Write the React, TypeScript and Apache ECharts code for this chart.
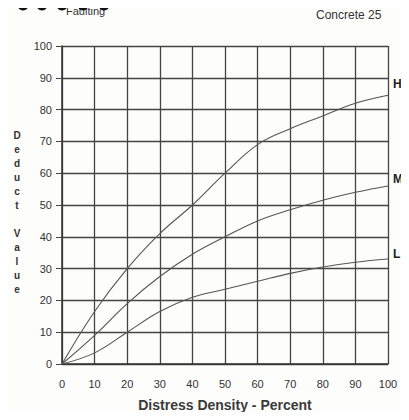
import React, { useEffect, useRef } from "react";
import * as echarts from "echarts";

const density = [0, 10, 20, 30, 40, 50, 60, 70, 80, 90, 100];
const highValues = [0, 16.5, 30, 41, 50, 60, 69, 74, 78, 82, 84.5];
const mediumValues = [0, 9, 19, 27.5, 34.5, 40, 45, 48.5, 51.5, 54, 56];
const lowValues = [0, 3.5, 10, 16.5, 21, 23.5, 26, 28.5, 30.5, 32, 33];
const curveLabels = ["H", "M", "L"];

const font = "'Liberation Sans Narrow', 'Liberation Sans', Arial, sans-serif";

export default function App() {
  const ref = useRef<HTMLDivElement>(null);
  useEffect(() => {
    if (!ref.current) return;
    const chart = echarts.init(ref.current, null, { renderer: "svg" });
    const pairs = (vals: number[]) => density.map((d, i) => [d, vals[i]]);
    const seriesVals = [highValues, mediumValues, lowValues];
    const labelTops = [78, 173, 248];
    chart.setOption({
      animation: false,
      backgroundColor: "#fdfdfb",
      grid: { left: 62, right: 21, top: 46, bottom: 56 },
      xAxis: {
        type: "value",
        min: 0,
        max: 100,
        interval: 10,
        name: "Distress Density - Percent",
        nameLocation: "middle",
        nameGap: 34,
        nameTextStyle: { fontFamily: font, fontSize: 14, color: "#3a3a3a", fontWeight: "bold" },
        axisLine: { show: true, lineStyle: { color: "#333", width: 1.5 } },
        axisTick: { show: false },
        axisLabel: { fontFamily: font, fontSize: 11, color: "#333", margin: 14 },
        splitLine: { show: true, lineStyle: { color: "#444", width: 1.3 } },
      },
      yAxis: {
        type: "value",
        min: 0,
        max: 100,
        interval: 10,
        axisLine: { show: true, lineStyle: { color: "#333", width: 1.5 } },
        axisTick: { show: true, length: 6, inside: false, lineStyle: { color: "#444" } },
        axisLabel: { fontFamily: font, fontSize: 11, color: "#333", margin: 10 },
        splitLine: { show: true, lineStyle: { color: "#444", width: 1.3 } },
      },
      series: seriesVals.map((vals, i) => ({
        type: "line",
        name: curveLabels[i],
        data: pairs(vals),
        smooth: 0.4,
        symbol: "none",
        lineStyle: { color: "#555", width: 1.1 },
      })),
      graphic: [
        {
          type: "text",
          x: 66,
          y: 5,
          z: 1,
          style: { text: "Faulting", fill: "#333", fontSize: 11, fontFamily: font },
        },
        ...[5, 23, 42, 62, 83, 104].map((x) => ({
          type: "circle",
          z: 2,
          shape: { cx: x, cy: 5, r: x < 10 ? 3 : 5.5 },
          style: { fill: "#111" },
        })),
        ...[122, 142, 162].map((x) => ({
          type: "rect",
          z: 2,
          shape: { x: x, y: 6, width: 6, height: 2 },
          style: { fill: "#666" },
        })),
        {
          type: "text",
          x: 316,
          y: 9,
          style: { text: "Concrete 25", fill: "#333", fontSize: 12, fontFamily: font },
        },
        ...curveLabels.map((t, i) => ({
          type: "text",
          x: 393,
          y: labelTops[i],
          style: { text: t, fill: "#222", fontSize: 12, fontWeight: "bold", fontFamily: font },
        })),
        {
          type: "text",
          x: 17,
          y: 128,
          style: {
            text: "D\ne\nd\nu\nc\nt\n \nV\na\nl\nu\ne",
            fill: "#333",
            fontSize: 10,
            fontWeight: "bold",
            fontFamily: font,
            align: "center",
            lineHeight: 14,
          },
        },
      ],
    });
    return () => chart.dispose();
  }, []);
  return <div ref={ref} style={{ width: 409, height: 420, margin: -8 }} />;
}
